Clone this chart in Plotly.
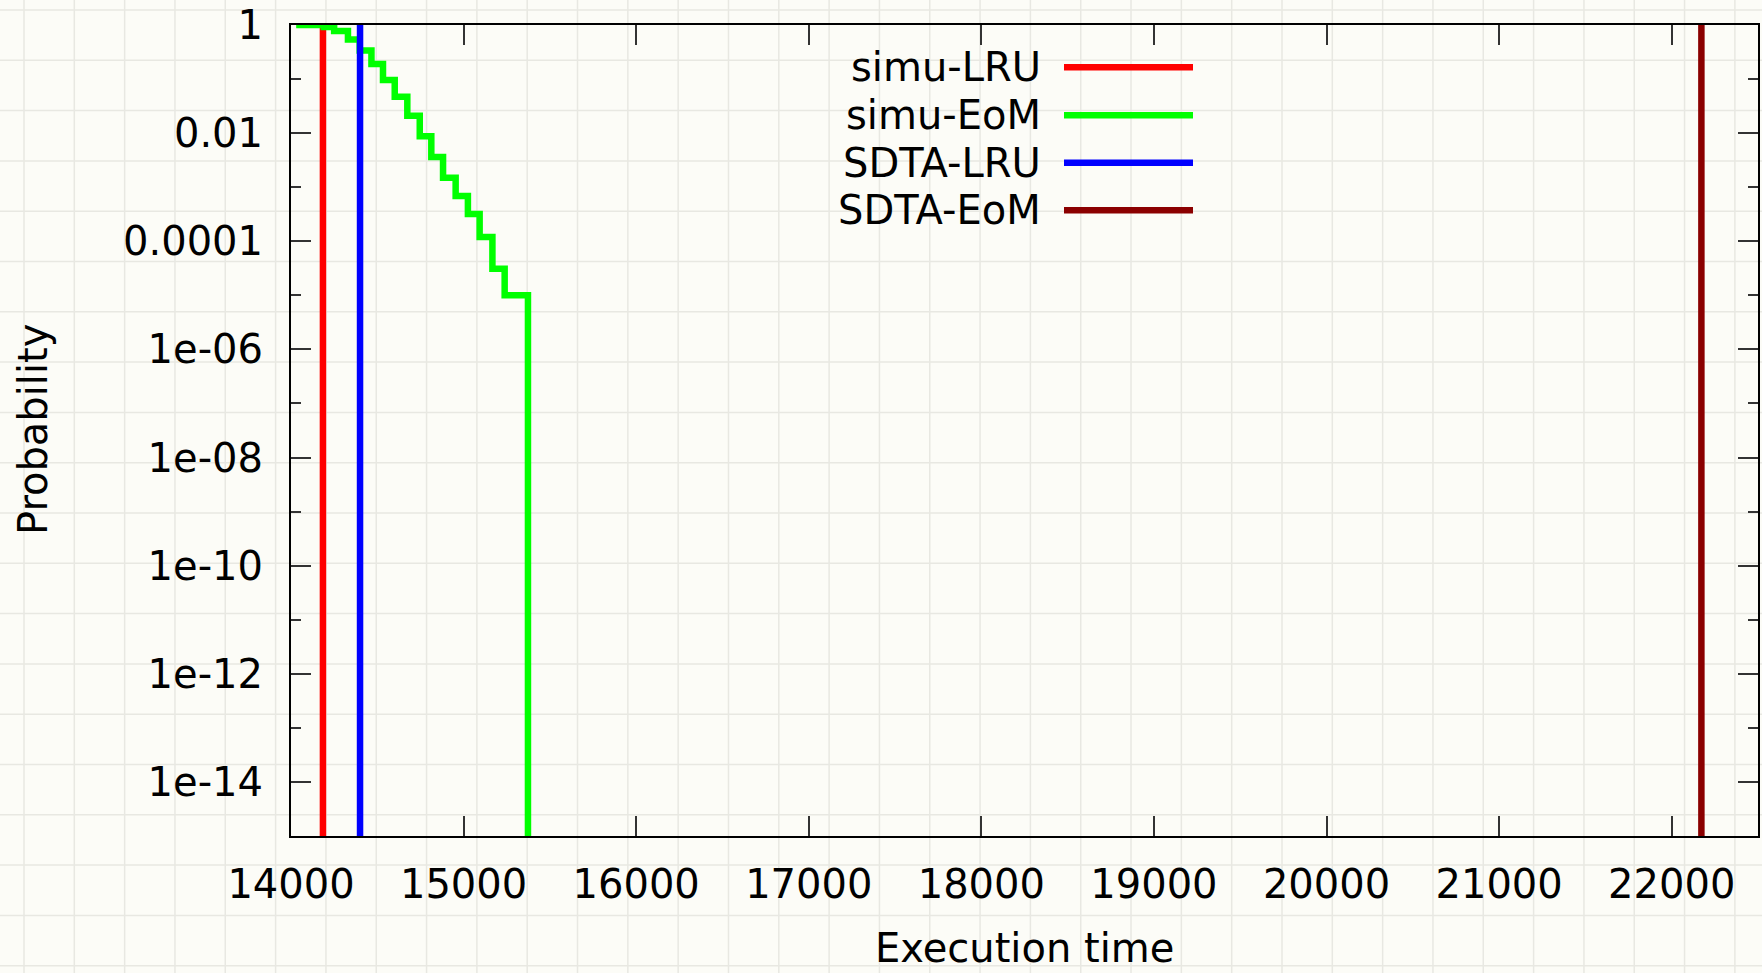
import plotly.graph_objects as go

# ---- data ----
green_x = [14030, 14190, 14250, 14330, 14398, 14466, 14533, 14601, 14674, 14746,
           14813, 14881, 14954, 15025, 15093, 15167, 15238, 15373]
green_p = [1.0, 0.92, 0.775, 0.537, 0.337, 0.19, 0.096, 0.047, 0.021, 0.0088,
           0.0036, 0.0015, 6.9e-4, 3.2e-4, 1.2e-4, 3.1e-5, 1.0e-5, 1e-16]
simu_lru_x = 14185
sdta_lru_x = 14400
sdta_eom_x = 22172
vline_p = [1.0, 1e-16]

x_ticks = [14000, 15000, 16000, 17000, 18000, 19000, 20000, 21000, 22000]
x_ticktext = ["14000", "15000", "16000", "17000", "18000", "19000", "20000", "21000", "22000"]
y_ticks = [1, 1e-2, 1e-4, 1e-6, 1e-8, 1e-10, 1e-12, 1e-14]
y_ticktext = ["1", "0.01", "0.0001", "1e-06", "1e-08", "1e-10", "1e-12", "1e-14"]
y_minor = [1e-1, 1e-3, 1e-5, 1e-7, 1e-9, 1e-11, 1e-13, 1e-15]

names = ["simu-LRU", "simu-EoM", "SDTA-LRU", "SDTA-EoM"]
colors = ["#ff0000", "#00ff00", "#0000ff", "#8b0000"]

# ---- layout geometry (pixels) ----
W, H = 1762, 973
L, R, T, B = 291, 1758, 25, 836
PW, PH = R - L, B - T
FONT = "DejaVu Sans"
FS = 40
LW = 6.5


def px2x(px):
    return (px - L) / PW


def px2y(py):
    return (B - py) / PH


fig = go.Figure()
fig.add_trace(go.Scatter(x=[simu_lru_x, simu_lru_x], y=vline_p, mode="lines",
                         line=dict(color=colors[0], width=LW), name=names[0], showlegend=False))
fig.add_trace(go.Scatter(x=green_x, y=green_p, mode="lines", line_shape="hv",
                         line=dict(color=colors[1], width=LW), name=names[1], showlegend=False))
fig.add_trace(go.Scatter(x=[sdta_lru_x, sdta_lru_x], y=vline_p, mode="lines",
                         line=dict(color=colors[2], width=LW), name=names[2], showlegend=False))
fig.add_trace(go.Scatter(x=[sdta_eom_x, sdta_eom_x], y=vline_p, mode="lines",
                         line=dict(color=colors[3], width=LW), name=names[3], showlegend=False))

shapes = []
# background graph-paper texture
k = 0
while 24 + 50.32 * k < W:
    px = 24 + 50.32 * k
    shapes.append(dict(type="line", xref="paper", yref="paper", x0=px2x(px), x1=px2x(px),
                       y0=px2y(0), y1=px2y(H), line=dict(color="#e8e8e2", width=1.5), layer="below"))
    k += 1
k = 0
while 10 + 50.3 * k < H:
    py = 10 + 50.3 * k
    shapes.append(dict(type="line", xref="paper", yref="paper", x0=px2x(0), x1=px2x(W),
                       y0=px2y(py), y1=px2y(py), line=dict(color="#e8e8e2", width=1.5), layer="below"))
    k += 1

annotations = []
# manual legend (text left of sample line, gnuplot style)
leg_y = [67.3, 115.3, 162.7, 210.3]
for nm, c, py in zip(names, colors, leg_y):
    annotations.append(dict(text=nm, xref="paper", yref="paper", x=px2x(1043), y=px2y(py),
                            xanchor="right", yanchor="middle", showarrow=False,
                            font=dict(family=FONT, size=FS, color="black")))
    shapes.append(dict(type="line", xref="paper", yref="paper", x0=px2x(1064), x1=px2x(1193),
                       y0=px2y(py), y1=px2y(py), line=dict(color=c, width=LW)))

annotations.append(dict(text="Probability", xref="paper", yref="paper", x=px2x(33), y=px2y(430),
                        textangle=-90, xanchor="center", yanchor="middle", showarrow=False,
                        font=dict(family=FONT, size=FS, color="black")))
annotations.append(dict(text="Execution time", xref="paper", yref="paper", x=px2x(1024), y=px2y(948),
                        xanchor="center", yanchor="middle", showarrow=False,
                        font=dict(family=FONT, size=FS, color="black")))

fig.update_layout(
    width=W, height=H,
    margin=dict(l=L, r=W - R, t=T, b=H - B, autoexpand=False),
    paper_bgcolor="#fcfcf7", plot_bgcolor="rgba(0,0,0,0)",
    font=dict(family=FONT, size=FS, color="black"),
    shapes=shapes, annotations=annotations,
    showlegend=False,
)
fig.update_xaxes(
    range=[14000, 22500], tickmode="array", tickvals=x_ticks, ticktext=x_ticktext,
    ticks="inside", ticklen=20, tickwidth=1.5, tickcolor="#333",
    showline=True, linecolor="black", linewidth=2, mirror="ticks",
    showgrid=False, zeroline=False, ticklabelstandoff=12,
    tickfont=dict(family=FONT, size=FS, color="black"),
)
fig.update_yaxes(
    type="log", range=[-15, 0], tickmode="array", tickvals=y_ticks, ticktext=y_ticktext,
    ticks="inside", ticklen=20, tickwidth=1.5, tickcolor="#333",
    minor=dict(tickmode="array", tickvals=y_minor, ticks="inside", ticklen=10,
               tickwidth=1.5, tickcolor="#333", showgrid=False),
    showline=True, linecolor="black", linewidth=2, mirror="ticks",
    showgrid=False, zeroline=False, ticklabelstandoff=18,
    tickfont=dict(family=FONT, size=FS, color="black"),
)

fig.write_html("out.html")
